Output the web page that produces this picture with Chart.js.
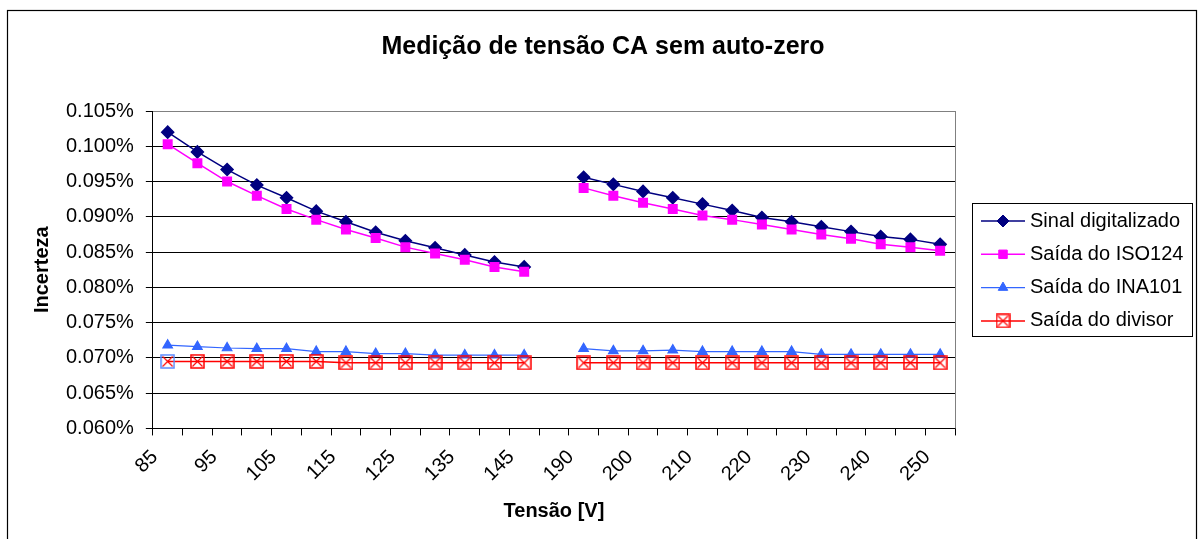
<!DOCTYPE html>
<html>
<head>
<meta charset="utf-8">
<script src="https://cdn.jsdelivr.net/npm/chart.js@4"></script>
<style>
  body { margin: 0; background: #fff; }
  #wrap { width: 1198px; height: 539px; position: relative; }
</style>
</head>
<body>
<div id="wrap"><canvas id="chart"></canvas></div>
<script>
// categories on the x axis (index 13 is the empty gap between both ranges)
const categories = ['85', '90', '95', '100', '105', '110', '115', '120', '125', '130', '135', '140', '145', '',
  '190', '195', '200', '205', '210', '215', '220', '225', '230', '235', '240', '245', '250'];

// values in %
const sinalDigitalizado = [0.1020, 0.0992, 0.0967, 0.0945, 0.0927, 0.0908, 0.0893, 0.0878, 0.0866, 0.0856, 0.0846, 0.0836, 0.0829, null,
  0.0956, 0.0946, 0.0936, 0.0927, 0.0918, 0.0909, 0.0899, 0.0893, 0.0886, 0.0879, 0.0872, 0.0868, 0.0861];
const saidaISO124 = [0.1003, 0.0976, 0.0950, 0.0930, 0.0911, 0.0896, 0.0882, 0.0870, 0.0857, 0.0848, 0.0839, 0.0829, 0.0822, null,
  0.0941, 0.0930, 0.0920, 0.0911, 0.0902, 0.0896, 0.0889, 0.0882, 0.0875, 0.0869, 0.0861, 0.0857, 0.0852];
const saidaINA101 = [0.0718, 0.0716, 0.0714, 0.0713, 0.0713, 0.0709, 0.0709, 0.0706, 0.0706, 0.0704, 0.0704, 0.0704, 0.0704, null,
  0.0713, 0.0710, 0.0710, 0.0711, 0.0709, 0.0709, 0.0709, 0.0709, 0.0705, 0.0705, 0.0705, 0.0705, 0.0705];
const saidaDivisor = [0.0695, 0.0695, 0.0695, 0.0695, 0.0695, 0.0695, 0.0693, 0.0693, 0.0693, 0.0693, 0.0693, 0.0693, 0.0693, null,
  0.0693, 0.0693, 0.0693, 0.0693, 0.0693, 0.0693, 0.0693, 0.0693, 0.0693, 0.0693, 0.0693, 0.0693, 0.0693];

// y axis ticks
const yMin = 0.060;
const yMax = 0.105;
const yStep = 0.005;

const FONT = '"Liberation Sans", Arial, sans-serif';

// square with an X inside, used as marker for "Saída do divisor"
function boxCross(boxColor) {
  const c = document.createElement('canvas');
  c.width = 15; c.height = 15;
  const g = c.getContext('2d');
  g.strokeStyle = boxColor;
  g.lineWidth = 1.5;
  g.strokeRect(1, 1, 13, 13);
  g.strokeStyle = '#ff0000';
  g.lineWidth = 1.2;
  g.beginPath();
  g.moveTo(2.5, 2.5); g.lineTo(12.5, 12.5);
  g.moveTo(12.5, 2.5); g.lineTo(2.5, 12.5);
  g.stroke();
  return c;
}
const redBox = boxCross('#ff0000');
const blueBox = boxCross('#5b8cff');

// outer frame + right border of the plot area
const frames = {
  id: 'frames',
  beforeDatasetsDraw(chart) {
    const { ctx, chartArea: a } = chart;
    ctx.save();
    ctx.strokeStyle = '#808080';
    ctx.lineWidth = 1;
    ctx.beginPath();
    const x = Math.round(a.right) + 0.5;
    ctx.moveTo(x, a.top);
    ctx.lineTo(x, a.bottom);
    ctx.stroke();
    ctx.restore();
  },
  afterDraw(chart) {
    const ctx = chart.ctx;
    ctx.save();
    ctx.strokeStyle = '#000';
    ctx.lineWidth = 1.2;
    ctx.strokeRect(7.5, 10.5, 1189, 560);
    ctx.restore();
  }
};

// Excel-like legend: line + marker, inside a box
const excelLegend = {
  id: 'excelLegend',
  afterDraw(chart) {
    const { ctx, chartArea: a } = chart;
    const w = 220, h = 133;
    const left = Math.round(a.right + 17);
    const top = Math.round((a.top + a.bottom) / 2 - h / 2);
    ctx.save();
    ctx.strokeStyle = '#000';
    ctx.lineWidth = 1;
    ctx.strokeRect(left + 0.5, top + 0.5, w, h);
    ctx.font = '20px ' + FONT;
    ctx.textBaseline = 'middle';
    ctx.textAlign = 'left';
    chart.data.datasets.forEach((ds, i) => {
      const y = top + 18 + i * 33.3;
      ctx.strokeStyle = ds.borderColor;
      ctx.lineWidth = ds.borderWidth;
      ctx.beginPath();
      ctx.moveTo(left + 9, y);
      ctx.lineTo(left + 53, y);
      ctx.stroke();
      const style = Array.isArray(ds.pointStyle) ? ds.pointStyle[ds.pointStyle.length - 1] : ds.pointStyle;
      ctx.fillStyle = ds.pointBackgroundColor;
      ctx.strokeStyle = ds.pointBorderColor;
      ctx.lineWidth = 1;
      Chart.helpers.drawPoint(ctx, { pointStyle: style, radius: ds.pointRadius, borderWidth: 1, rotation: 0 }, left + 31, y);
      ctx.fillStyle = '#000';
      ctx.fillText(ds.label, left + 58, y);
    });
    ctx.restore();
  }
};

new Chart(document.getElementById('chart'), {
  type: 'line',
  data: {
    labels: categories,
    datasets: [
      {
        label: 'Sinal digitalizado',
        data: sinalDigitalizado,
        borderColor: '#000080',
        backgroundColor: '#000080',
        pointBackgroundColor: '#000080',
        pointBorderColor: '#000080',
        borderWidth: 1.5,
        pointStyle: 'rectRot',
        pointRadius: 6,
        order: 4
      },
      {
        label: 'Saída do ISO124',
        data: saidaISO124,
        borderColor: '#ff00ff',
        backgroundColor: '#ff00ff',
        pointBackgroundColor: '#ff00ff',
        pointBorderColor: '#ff00ff',
        borderWidth: 1.5,
        pointStyle: 'rect',
        pointRadius: 6,
        order: 3
      },
      {
        label: 'Saída do INA101',
        data: saidaINA101,
        borderColor: '#3366ff',
        backgroundColor: '#3366ff',
        pointBackgroundColor: '#3366ff',
        pointBorderColor: '#3366ff',
        borderWidth: 1.2,
        pointStyle: 'triangle',
        pointRadius: 5.5,
        order: 2
      },
      {
        label: 'Saída do divisor',
        data: saidaDivisor,
        borderColor: '#ff0000',
        backgroundColor: '#ff0000',
        pointBackgroundColor: 'rgba(0,0,0,0)',
        pointBorderColor: '#ff0000',
        borderWidth: 1.5,
        pointStyle: saidaDivisor.map((v, i) => i === 0 ? blueBox : redBox),
        pointRadius: 7,
        order: 1
      }
    ]
  },
  options: {
    responsive: true,
    maintainAspectRatio: false,
    animation: false,
    events: [],
    spanGaps: false,
    layout: { padding: { left: 8, right: 0, top: 0, bottom: 6 } },
    plugins: {
      legend: { display: false },
      tooltip: { enabled: false },
      title: {
        display: true,
        text: 'Medição de tensão CA sem auto-zero',
        color: '#000',
        font: { family: FONT, size: 25, weight: 'bold' },
        padding: { top: 32, bottom: 49 }
      }
    },
    scales: {
      x: {
        type: 'category',
        offset: true,
        grid: {
          offset: true,
          drawOnChartArea: false,
          drawTicks: true,
          tickLength: 7,
          color: '#000'
        },
        border: { color: '#000', width: 1 },
        ticks: {
          autoSkip: false,
          maxRotation: 45,
          minRotation: 45,
          padding: 10,
          labelOffset: -13,
          color: '#000',
          font: { family: FONT, size: 20 },
          callback: (v, i) => (i % 2 === 0 ? categories[i] : '')
        },
        title: {
          display: true,
          text: 'Tensão [V]',
          color: '#000',
          font: { family: FONT, size: 20, weight: 'bold' },
          padding: { top: 3, bottom: 10 }
        }
      },
      y: {
        min: yMin,
        max: yMax,
        grid: {
          color: (c) => (c.index === c.scale.ticks.length - 1 ? '#808080' : '#000'),
          tickColor: '#000',
          tickLength: 7,
          lineWidth: 1
        },
        border: { color: '#000', width: 1 },
        ticks: {
          stepSize: yStep,
          padding: 12,
          color: '#000',
          font: { family: FONT, size: 20 },
          callback: (v) => v.toFixed(3) + '%'
        },
        title: {
          display: true,
          text: 'Incerteza',
          color: '#000',
          font: { family: FONT, size: 20, weight: 'bold' },
          padding: { top: 22, bottom: 0 }
        }
      },
      // empty axis that only reserves the room for the legend on the right
      legendSpace: {
        type: 'linear',
        position: 'right',
        display: true,
        grid: { display: false, drawTicks: false },
        border: { display: false },
        ticks: { display: false },
        afterFit: (axis) => { axis.width = 243; }
      }
    }
  },
  plugins: [frames, excelLegend]
});
</script>
</body>
</html>
